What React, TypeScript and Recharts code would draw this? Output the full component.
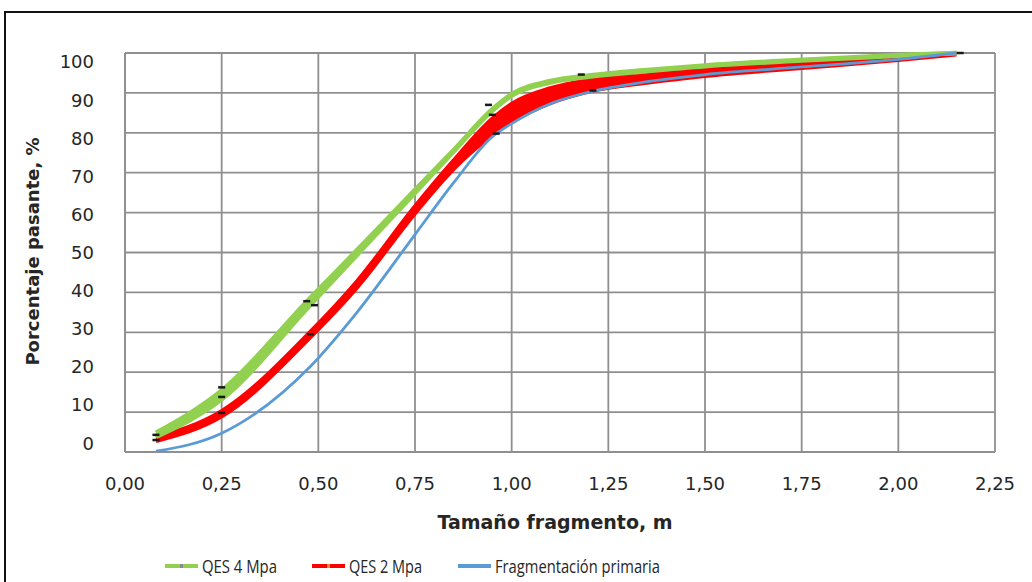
import { ComposedChart, Area, Line, XAxis, YAxis, CartesianGrid, Label } from 'recharts'

// tamaño de fragmento (m) donde se leen las curvas
const sizes = [0.08, 0.25, 0.48, 0.6, 0.75, 0.85, 0.95, 1.0, 1.1, 1.2, 1.35, 1.5, 1.75, 2.0, 2.15]

// QES 4 Mpa, banda inferior / superior (% pasante)
const qes4Low = [3.8, 13.2, 36.9, 49.4, 64.9, 75.3, 85.5, 89.3, 92.6, 94.05, 95.45, 96.7, 98.1, 99.3, 100]
const qes4High = [4.8, 15.4, 38.7, 50.6, 65.7, 75.7, 85.9, 89.7, 93.0, 94.35, 95.75, 96.9, 98.3, 99.5, 100]

// QES 2 Mpa, banda inferior / superior
const qes2Low = [2.8, 9.0, 28.9, 41.3, 59.9, 71.0, 79.5, 82.8, 87.5, 90.4, 92.6, 94.3, 96.3, 98.3, 99.7]
const qes2High = [3.6, 10.2, 30.1, 42.7, 61.5, 73.0, 83.5, 87.2, 91.1, 93.2, 94.8, 96.1, 97.5, 98.9, 99.9]

// Fragmentación primaria
const primaria = [0.2, 4.7, 21.5, 35.0, 54.5, 67.5, 79.0, 82.3, 87.3, 90.2, 92.8, 94.6, 96.5, 98.4, 100]

// extremos de las barras de error
const capSizes = [0.08, 0.08, 0.25, 0.25, 0.25, 0.47, 0.49, 0.48, 0.94, 0.95, 0.96, 1.18, 1.21, 2.16]
const capValues = [4.3, 3.0, 16.2, 13.8, 9.8, 37.8, 36.8, 29.5, 87.0, 84.5, 79.8, 94.6, 90.6, 100]

const xTicks = [0, 0.25, 0.5, 0.75, 1, 1.25, 1.5, 1.75, 2, 2.25]
const yTicks = [0, 10, 20, 30, 40, 50, 60, 70, 80, 90, 100]

const GREEN = '#92d050'
const RED = '#ff0000'
const BLUE = '#5b9bd5'
const GRID = '#8f8f8f'
const TEXT = '#262626'

const rows = sizes.map((x, i) => ({
  x,
  qes4: [qes4Low[i], qes4High[i]],
  qes2: [qes2Low[i], qes2High[i]],
  prim: primaria[i]
}))

const caps = capSizes.map((x, i) => ({ x, cap: capValues[i] }))

const legendItems = [
  { name: 'QES 4 Mpa', color: GREEN, mark: '#8a8a8a', x: 165, len: 75 },
  { name: 'QES 2 Mpa', color: RED, mark: '#f08a24', x: 312, len: 73 },
  { name: 'Fragmentación primaria', color: BLUE, mark: BLUE, x: 458, len: 165 }
]

function XTick({ x, y, payload }: any) {
  return (
    <text x={x} y={y + 30} textAnchor="middle" fontFamily="DejaVu Sans" fontSize={18} fill={TEXT}>
      {Number(payload.value).toFixed(2).replace('.', ',')}
    </text>
  )
}

function YTick({ x, y, payload }: any) {
  // labels sit slightly closer to the middle than the gridlines
  const yy = 252.5 + (y - 252.5) * 0.955
  return (
    <text x={x - 23} y={yy + 6.5} textAnchor="end" fontFamily="DejaVu Sans" fontSize={18} fill={TEXT}>
      {payload.value}
    </text>
  )
}

function capDot(props: any) {
  const { cx, cy, index } = props
  return (
    <line key={`cap-${index}`} x1={cx - 3.5} x2={cx + 3.5} y1={cy} y2={cy} stroke="#1a1a1a" strokeWidth={2.5} />
  )
}

export default function App() {
  return (
    <div style={{ position: 'fixed', left: 0, top: 0, width: 1032, height: 582, overflow: 'hidden', background: '#fff' }}>
      <div style={{ position: 'absolute', left: 4, top: 11, width: 1100, height: 700, border: '2px solid #111' }} />
      <div style={{ position: 'absolute', left: 0, top: 0 }}>
        <ComposedChart width={1032} height={582} data={rows} margin={{ top: 53, right: 37, bottom: 0, left: 0 }}>
          <CartesianGrid stroke={GRID} strokeWidth={1.8} horizontalValues={yTicks} verticalValues={xTicks} />
          <XAxis
            type="number"
            dataKey="x"
            domain={[0, 2.25]}
            ticks={xTicks}
            interval={0}
            height={130}
            tick={<XTick />}
            tickLine={false}
            axisLine={{ stroke: GRID, strokeWidth: 1.8 }}
          >
            <Label
              content={({ viewBox }: any) => (
                <text
                  x={viewBox.x + viewBox.width / 2 - 5}
                  y={viewBox.y + 77}
                  textAnchor="middle"
                  fontFamily="DejaVu Sans"
                  fontWeight="bold"
                  fontSize={19}
                  fill={TEXT}
                >
                  Tamaño fragmento, m
                </text>
              )}
            />
          </XAxis>
          <YAxis
            type="number"
            domain={[0, 100]}
            ticks={yTicks}
            interval={0}
            width={125}
            tick={<YTick />}
            tickLine={false}
            axisLine={{ stroke: GRID, strokeWidth: 1.8 }}
          >
            <Label
              content={({ viewBox }: any) => {
                const cy = viewBox.y + viewBox.height / 2 - 1
                return (
                  <text
                    x={39}
                    y={cy}
                    transform={`rotate(-90 39 ${cy})`}
                    textAnchor="middle"
                    fontFamily="DejaVu Sans"
                    fontWeight="bold"
                    fontSize={18}
                    fill={TEXT}
                  >
                    Porcentaje pasante, %
                  </text>
                )
              }}
            />
          </YAxis>
          <Line type="monotone" dataKey="prim" stroke={BLUE} strokeWidth={2.8} dot={false} isAnimationActive={false} />
          <Area type="monotone" dataKey="qes2" stroke={RED} strokeWidth={4.5} fill={RED} fillOpacity={1} isAnimationActive={false} />
          <Area type="monotone" dataKey="qes4" stroke={GREEN} strokeWidth={4.5} fill={GREEN} fillOpacity={1} isAnimationActive={false} />
          <Line data={caps} dataKey="cap" stroke="none" dot={capDot} isAnimationActive={false} />
        </ComposedChart>
      </div>
      <svg width={1032} height={582} style={{ position: 'absolute', left: 0, top: 0, pointerEvents: 'none' }}>
        {legendItems.map(it => (
          <g key={it.name}>
            <line x1={it.x} x2={it.x + 33} y1={566} y2={566} stroke={it.color} strokeWidth={4} />
            <rect x={it.x + 15} y={564} width={3} height={4} fill={it.mark} />
            <text
              x={it.x + 37}
              y={573}
              fontFamily="Open Sans"
              fontSize={19}
              fill={TEXT}
              textLength={it.len}
              lengthAdjust="spacingAndGlyphs"
            >
              {it.name}
            </text>
          </g>
        ))}
      </svg>
    </div>
  )
}
